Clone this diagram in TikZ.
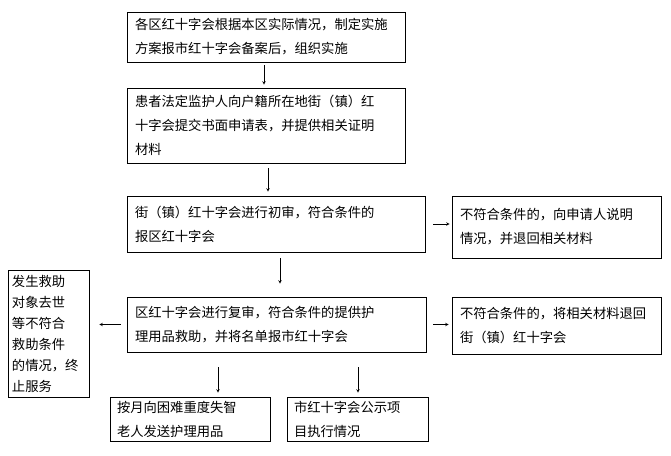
\documentclass[tikz,border=0pt]{standalone}
\usepackage{fontspec}
\newfontfamily\cjk{Noto Sans CJK SC}
\usetikzlibrary{arrows}
\usetikzlibrary{positioning}
\begin{document}
\begin{tikzpicture}
        [x=1pt,y=-1pt,
          box/.style={draw,semithick,rectangle,align=left,inner sep=0pt,
            font=\cjk\fontsize{13.3}{24}\selectfont},
          flow/.style={->,>=stealth,semithick}]
        \useasboundingbox (0,0) rectangle (671,455);
        \node[box,minimum width=278,minimum height=50,text width=262] (s1) at (266,37) {各区红十字会根据本区实际情况，制定实施\\方案报市红十字会备案后，组织实施};
        \node[box,minimum width=278,minimum height=75,text width=262] (s2) at (266,125.5) {患者法定监护人向户籍所在地街（镇）红\\十字会提交书面申请表，并提供相关证明\\材料};
        \node[box,minimum width=298,minimum height=56,text width=282] (s3) at (276,224) {街（镇）红十字会进行初审，符合条件的\\报区红十字会};
        \node[box,minimum width=209,minimum height=62,text width=193] (r1) at (556.5,227) {不符合条件的，向申请人说明\\情况，并退回相关材料};
        \node[box,minimum width=299,minimum height=55,text width=283] (s4) at (276.5,324.5) {区红十字会进行复审，符合条件的提供护\\理用品救助，并将名单报市红十字会};
        \node[box,minimum width=209,minimum height=57,text width=193] (r2) at (556.5,325.5) {不符合条件的，将相关材料退回\\街（镇）红十字会};
        \node[box,minimum width=81,minimum height=127,text width=73,
          font=\cjk\fontsize{13.3}{21}\selectfont] (l1) at (48.5,333.5) {发生救助\\对象去世\\等不符合\\救助条件\\的情况，终\\止服务};
        \node[box,minimum width=160,minimum height=44,text width=146] (b1) at (190,419) {按月向困难重度失智\\老人发送护理用品};
        \node[box,minimum width=141,minimum height=44,text width=127] (b2) at (357.5,419) {市红十字会公示项\\目执行情况};
        \coordinate (a1) at (264,62);
        \draw[flow,shorten <=3pt,shorten >=3pt] (s1.south -| a1) -- (s2.north -| a1);
        \coordinate (a2) at (268,0);
        \draw[flow,shorten <=5pt,shorten >=4pt] (s2.south -| a2) -- (s3.north -| a2);
        \coordinate (a3) at (280,0);
        \draw[flow,shorten <=6pt,shorten >=13pt] (s3.south -| a3) -- (s4.north -| a3);
        \draw[flow,shorten <=8pt,shorten >=2pt] (s3.east) -- (s3.east -| r1.west);
        \draw[flow,shorten <=7pt,shorten >=3pt] (s4.east) -- (s4.east -| r2.west);
        \draw[flow,shorten <=6pt,shorten >=10pt] (s4.west) -- (s4.west -| l1.east);
        \coordinate (a4) at (218,0);
        \coordinate (a5) at (358,0);
        \draw[flow,shorten <=15pt,shorten >=4pt] (s4.south -| a4) -- (b1.north -| a4);
        \draw[flow,shorten <=15pt,shorten >=4pt] (s4.south -| a5) -- (b2.north -| a5);
      \end{tikzpicture}
\end{document}
